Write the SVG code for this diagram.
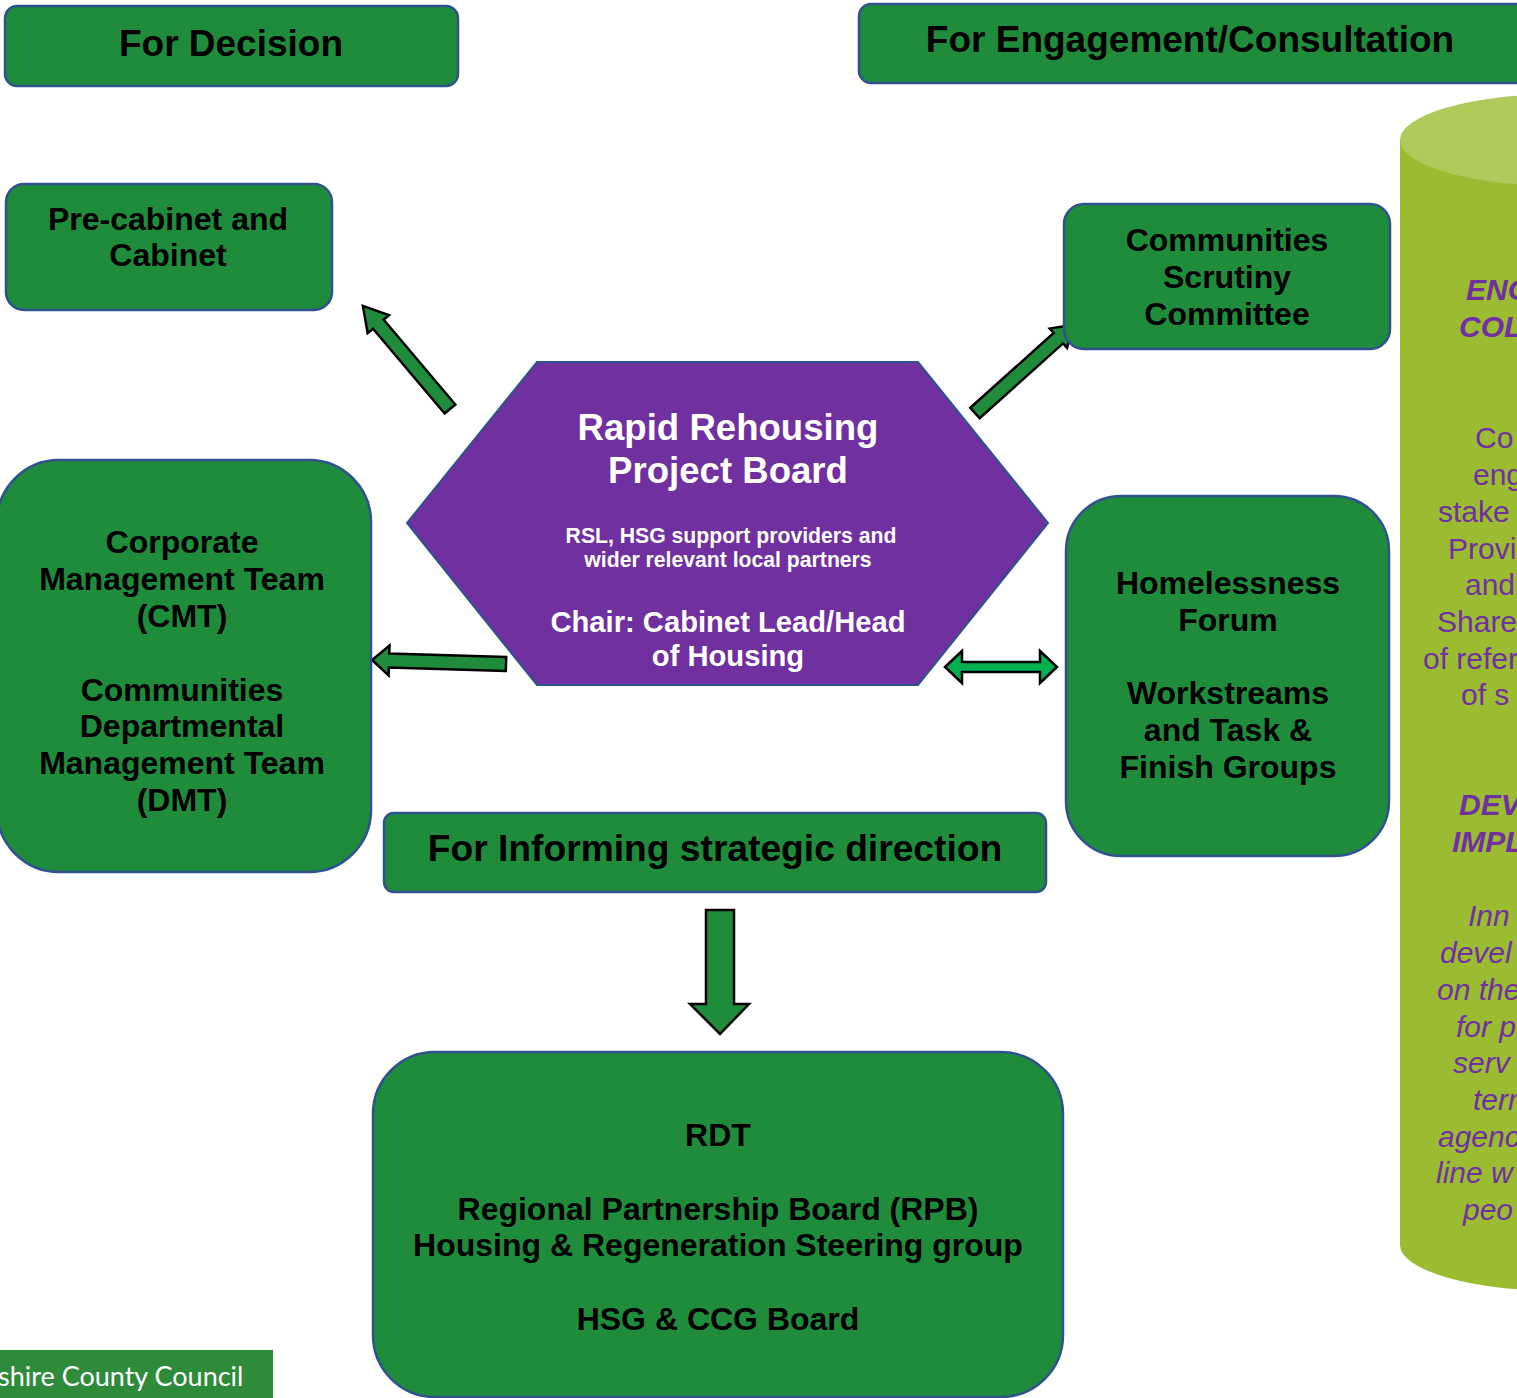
<svg xmlns="http://www.w3.org/2000/svg" width="1517" height="1398" viewBox="0 0 1517 1398">
<style>
.box{fill:#1f8c3c;stroke:#2f528f;stroke-width:2.5}
.t{font-family:"Liberation Sans",Arial,sans-serif;font-weight:bold;fill:#000;text-anchor:middle}
.h{font-family:"Liberation Sans",Arial,sans-serif;font-weight:bold;fill:#fff;text-anchor:middle}
.arr{fill:#1f8c3c;stroke:#000;stroke-width:2.5;stroke-linejoin:miter}
.cy{font-family:"Liberation Sans",Arial,sans-serif;font-size:30px;fill:#7030a0}
.cyb{font-weight:bold;font-style:italic}
.cyi{font-style:italic}
</style>
<rect width="1517" height="1398" fill="#fff"/>

<g id="cylinder">
<path d="M1400,140 L1400,1245 A160,46 0 0 0 1720,1245 L1720,140 Z" fill="#9bbb30"/>
<ellipse cx="1560" cy="140" rx="160" ry="46" fill="#afca5a"/>
<text class="cy cyb" x="1466" y="300">ENG</text>
<text class="cy cyb" x="1459" y="337">COL</text>
<text class="cy" x="1475" y="448">Co</text>
<text class="cy" x="1473" y="485">eng</text>
<text class="cy" x="1438" y="522">stake</text>
<text class="cy" x="1448" y="559">Provi</text>
<text class="cy" x="1465" y="595">and</text>
<text class="cy" x="1437" y="632">Share</text>
<text class="cy" x="1423" y="669">of refer</text>
<text class="cy" x="1461" y="705">of s</text>
<text class="cy cyb" x="1459" y="815">DEV</text>
<text class="cy cyb" x="1452" y="852">IMPL</text>
<text class="cy cyi" x="1468" y="926">Inn</text>
<text class="cy cyi" x="1440" y="963">devel</text>
<text class="cy cyi" x="1437" y="1000">on the</text>
<text class="cy cyi" x="1456" y="1037">for p</text>
<text class="cy cyi" x="1453" y="1073">serv</text>
<text class="cy cyi" x="1473" y="1110">term</text>
<text class="cy cyi" x="1438" y="1147">agenc</text>
<text class="cy cyi" x="1436" y="1183">line w</text>
<text class="cy cyi" x="1463" y="1220">peo</text>
</g>

<g id="connectors">
<polygon class="arr" transform="translate(450,409) rotate(-130.2)" points="0,-7 111,-7 111,-14 135,0 111,14 111,7 0,7"/>
<polygon class="arr" transform="translate(975,413) rotate(-41.9)" points="0,-7 112,-7 112,-13 132,0 112,13 112,7 0,7"/>
<polygon class="arr" transform="translate(506,664) rotate(181.7)" points="0,-7 117,-7 117,-15 134,0 117,15 117,7 0,7"/>
<polygon class="arr" style="fill:#00b050" points="945,667 962,651 962,662 1040,662 1040,651 1057,667 1040,683 1040,672 962,672 962,683"/>
<polygon class="arr" points="706,910 734,910 734,1004 749,1004 720,1034 690,1004 706,1004"/>
</g>

<g id="for-decision">
<rect class="box" x="5" y="6" width="453" height="80" rx="12"/>
<text class="t" x="231" y="56" font-size="37">For Decision</text>
</g>

<g id="for-engagement">
<rect class="box" x="859" y="4" width="680" height="79" rx="12"/>
<text class="t" x="1190" y="52" font-size="37">For Engagement/Consultation</text>
</g>

<g id="pre-cabinet">
<rect class="box" x="6" y="184" width="326" height="126" rx="18"/>
<text class="t" x="168" y="230" font-size="32">Pre-cabinet and</text>
<text class="t" x="168" y="266" font-size="32">Cabinet</text>
</g>

<g id="scrutiny">
<rect class="box" x="1064" y="204" width="326" height="145" rx="20"/>
<text class="t" x="1227" y="251" font-size="32">Communities</text>
<text class="t" x="1227" y="288" font-size="32">Scrutiny</text>
<text class="t" x="1227" y="325" font-size="32">Committee</text>
</g>

<g id="project-board">
<polygon points="537,362 918,362 1048,523 918,685 537,685 407,523" fill="#7030a0" stroke="#2f528f" stroke-width="2"/>
<text class="h" x="728" y="440" font-size="36.6">Rapid Rehousing</text>
<text class="h" x="728" y="483" font-size="36.6">Project Board</text>
<text class="h" x="731" y="543" font-size="21.2">RSL, HSG support providers and</text>
<text class="h" x="728" y="567" font-size="21.2">wider relevant local partners</text>
<text class="h" x="728" y="632" font-size="29.2">Chair: Cabinet Lead/Head</text>
<text class="h" x="728" y="666" font-size="29.2">of Housing</text>
</g>

<g id="cmt">
<rect class="box" x="-3" y="460" width="374" height="412" rx="62"/>
<text class="t" x="182" y="553" font-size="32">Corporate</text>
<text class="t" x="182" y="590" font-size="32">Management Team</text>
<text class="t" x="182" y="627" font-size="32">(CMT)</text>
<text class="t" x="182" y="701" font-size="32">Communities</text>
<text class="t" x="182" y="737" font-size="32">Departmental</text>
<text class="t" x="182" y="774" font-size="32">Management Team</text>
<text class="t" x="182" y="811" font-size="32">(DMT)</text>
</g>

<g id="homelessness-forum">
<rect class="box" x="1066" y="496" width="323" height="360" rx="55"/>
<text class="t" x="1228" y="594" font-size="32">Homelessness</text>
<text class="t" x="1228" y="631" font-size="32">Forum</text>
<text class="t" x="1228" y="704" font-size="32">Workstreams</text>
<text class="t" x="1228" y="741" font-size="32">and Task &amp;</text>
<text class="t" x="1228" y="778" font-size="32">Finish Groups</text>
</g>

<g id="for-informing">
<rect class="box" x="384" y="813" width="662" height="79" rx="10"/>
<text class="t" x="715" y="861" font-size="37.2">For Informing strategic direction</text>
</g>

<g id="rdt">
<rect class="box" x="373" y="1052" width="690" height="345" rx="62"/>
<text class="t" x="718" y="1146" font-size="32">RDT</text>
<text class="t" x="718" y="1220" font-size="32">Regional Partnership Board (RPB)</text>
<text class="t" x="718" y="1256" font-size="32">Housing &amp; Regeneration Steering group</text>
<text class="t" x="718" y="1330" font-size="32">HSG &amp; CCG Board</text>
</g>

<g id="logo">
<rect x="0" y="1350" width="273" height="48" fill="#2e8b3a"/>
<text x="-2" y="1386" font-family="Lato,'Open Sans',sans-serif" font-size="27" fill="#fff">shire County Council</text>
</g>
</svg>
